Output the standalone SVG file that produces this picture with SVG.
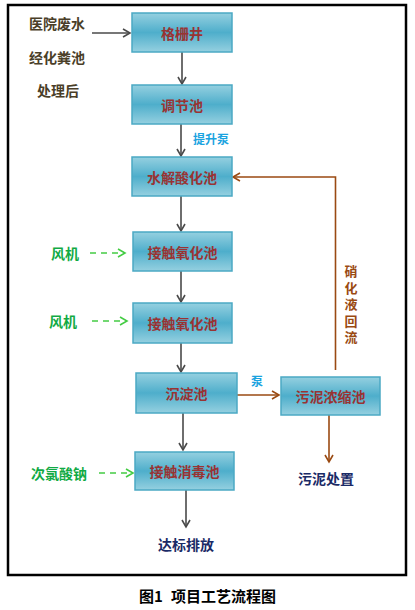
<svg xmlns="http://www.w3.org/2000/svg" width="415" height="610" viewBox="0 0 415 610">
<defs>
<linearGradient id="bg" x1="0" y1="0" x2="0" y2="1">
<stop offset="0" stop-color="#95d0e0"/>
<stop offset="0.5" stop-color="#4eaecb"/>
<stop offset="1" stop-color="#95d0e0"/>
</linearGradient>
<marker id="ag" markerWidth="10" markerHeight="10" refX="8" refY="5" orient="auto" markerUnits="userSpaceOnUse">
<path d="M1,1 L8,5 L1,9" fill="none" stroke="#4a4a4a" stroke-width="1.6"/>
</marker>
<marker id="ab" markerWidth="10" markerHeight="10" refX="8" refY="5" orient="auto" markerUnits="userSpaceOnUse">
<path d="M1,1 L8,5 L1,9" fill="none" stroke="#9a4a12" stroke-width="1.6"/>
</marker>
<marker id="agr" markerWidth="10" markerHeight="10" refX="8" refY="5" orient="auto" markerUnits="userSpaceOnUse">
<path d="M1,1 L8,5 L1,9" fill="none" stroke="#44cc44" stroke-width="1.6"/>
</marker>
</defs>
<style>
.box{fill:url(#bg);stroke:#4ba9c4;stroke-width:1.5}
.bt{font-family:"Noto Sans CJK SC",sans-serif;font-weight:bold;font-size:14px;fill:#993333;text-anchor:middle;dominant-baseline:central}
.lt{font-family:"Noto Sans CJK SC",sans-serif;font-weight:bold;font-size:14px;fill:#4a3e28;dominant-baseline:central}
.gt{font-family:"Noto Sans CJK SC",sans-serif;font-weight:bold;font-size:14px;fill:#11aa44;dominant-baseline:central}
.nt{font-family:"Noto Sans CJK SC",sans-serif;font-weight:bold;font-size:14px;fill:#1a2a66;text-anchor:middle;dominant-baseline:central}
.ct{font-family:"Noto Sans CJK SC",sans-serif;font-weight:bold;font-size:12px;fill:#1aa3e0;dominant-baseline:central}
.rt{font-family:"Noto Sans CJK SC",sans-serif;font-weight:bold;font-size:13px;fill:#9a4a12;writing-mode:vertical-rl;letter-spacing:3.5px}
.cap{font-family:"Noto Sans CJK SC",serif;font-weight:bold;font-size:15px;fill:#000;dominant-baseline:central}
.lg{stroke:#4a4a4a;stroke-width:1.6;fill:none;marker-end:url(#ag)}
.lb{stroke:#9a4a12;stroke-width:1.6;fill:none;marker-end:url(#ab)}
.ld{stroke:#44cc44;stroke-width:1.6;fill:none;stroke-dasharray:6,5;marker-end:url(#agr)}
</style>
<rect x="8" y="5" width="398" height="570" fill="#fff" stroke="#000" stroke-width="2.5"/>
<g id="connectors">
<line class="lg" x1="92" y1="33" x2="130" y2="33"/>
<line class="lg" x1="182" y1="52" x2="182" y2="84"/>
<line class="lg" x1="181" y1="124" x2="181" y2="156"/>
<line class="lg" x1="181" y1="196" x2="181" y2="231"/>
<line class="lg" x1="181" y1="271" x2="181" y2="302"/>
<line class="lg" x1="181" y1="343" x2="181" y2="372"/>
<line class="lg" x1="183" y1="413" x2="183" y2="450"/>
<line class="lg" x1="186" y1="490" x2="186" y2="527"/>
<line class="lb" x1="237" y1="395" x2="279" y2="395"/>
<line class="lb" x1="329" y1="415" x2="329" y2="462"/>
<polyline class="lb" points="335.5,370 335.5,177 233,177"/>
<line class="ld" x1="90" y1="253" x2="125" y2="253"/>
<line class="ld" x1="92" y1="321" x2="127" y2="321"/>
<line class="ld" x1="99" y1="473" x2="133" y2="473"/>
</g>
<g id="n1"><rect class="box" x="132" y="13" width="100" height="39"/><text class="bt" x="182" y="33">格栅井</text></g>
<g id="n2"><rect class="box" x="132" y="85" width="100" height="39"/><text class="bt" x="182" y="105">调节池</text></g>
<g id="n3"><rect class="box" x="132" y="157" width="100" height="39"/><text class="bt" x="182" y="177">水解酸化池</text></g>
<g id="n4"><rect class="box" x="133" y="232" width="99" height="39"/><text class="bt" x="182.5" y="252">接触氧化池</text></g>
<g id="n5"><rect class="box" x="133" y="303" width="99" height="40"/><text class="bt" x="182.5" y="323">接触氧化池</text></g>
<g id="n6"><rect class="box" x="136" y="373" width="101" height="40"/><text class="bt" x="186.5" y="393">沉淀池</text></g>
<g id="n7"><rect class="box" x="281" y="377" width="99" height="38"/><text class="bt" x="330.5" y="396">污泥浓缩池</text></g>
<g id="n8"><rect class="box" x="135" y="452" width="99" height="38"/><text class="bt" x="184.5" y="471">接触消毒池</text></g>
<g id="labels">
<text class="lt" x="29" y="23">医院废水</text>
<text class="lt" x="29" y="57">经化粪池</text>
<text class="lt" x="37" y="90">处理后</text>
<text class="ct" x="193" y="138">提升泵</text>
<text class="gt" x="51" y="253">风机</text>
<text class="gt" x="49" y="321">风机</text>
<text class="gt" x="31" y="473">次氯酸钠</text>
<text class="ct" x="251" y="380">泵</text>
<text class="rt" x="351" y="265">硝化液回流</text>
<text class="nt" x="326" y="478">污泥处置</text>
<text class="nt" x="186" y="544">达标排放</text>
</g>
<text class="cap" x="139" y="595">图1</text>
<text class="cap" x="171" y="595">项目工艺流程图</text>
</svg>
